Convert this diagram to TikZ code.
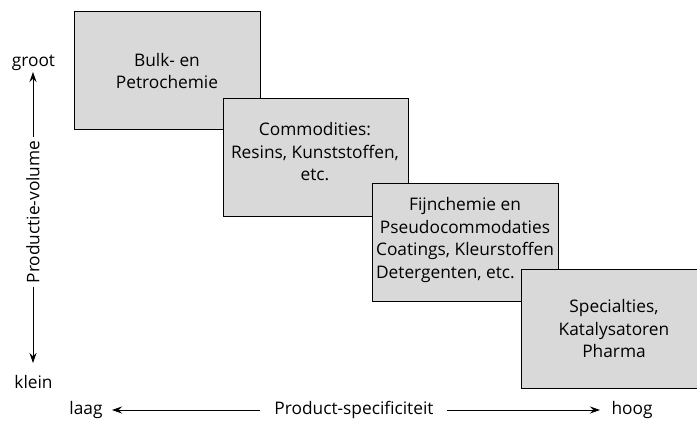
\documentclass[tikz,border=0pt]{standalone}
\usepackage{fontspec}
\setmainfont{Open Sans}
\usetikzlibrary{arrows.meta}
\newsavebox\mycoatbox
\begin{document}
\begin{tikzpicture}[x=1pt,y=-1pt,
  box/.style={draw=black,fill=black!15,line width=0.9pt},
  boxtext/.style={align=center,font=\fontsize{17.3}{22.5}\selectfont,inner sep=0pt},
  axtext/.style={font=\fontsize{17.3}{20}\selectfont,inner sep=0pt},
  axarrow/.style={line width=0.9pt,-{Stealth[length=10pt,width=7pt]}}]
\useasboundingbox (0,0) rectangle (697,424);
\begin{scope}
\clip (0,0) rectangle (697,424);
\draw[box] (74,11) rectangle (260,129.5);
\node[boxtext] (b1) at (167,71) {Bulk- en\\Petrochemie};
\draw[box] (223,98) rectangle (408,216);
\node[boxtext] (b2) at (315,152) {Commodities:\\Resins, Kunststoffen,\\etc.};
\draw[box] (372,183) rectangle (558,301);
\node[boxtext] (b3) at (465,240) {\global\setbox\mycoatbox=\hbox{Coatings, Kleurstoffen}Fijnchemie en\\Pseudocommodaties\\\copy\mycoatbox\\\makebox[\wd\mycoatbox][l]{Detergenten, etc.}};
\draw[box] (521,269) rectangle (708,388);
\node[boxtext] (b4) at (614,329) {Specialties,\\Katalysatoren\\Pharma};
\end{scope}
% vertical axis
\node[axtext] (groot) at (33.5,63) {groot};
\node[axtext] (klein) at (33.5,382) {klein};
\node[axtext,rotate=90] (vol) at (33,212) {Productie-volume};
\coordinate (vt) at (33,72);
\coordinate (vb) at (33,363);
\draw[axarrow] (vol.east) ++(0,-3) -- (vt);
\draw[axarrow] (vol.west) ++(0,3) -- (vb);
% horizontal axis
\node[axtext] (laag) at (86,410) {laag};
\node[axtext] (hoog) at (632,410) {hoog};
\node[axtext] (spec) at (354,410) {Product-specificiteit};
\coordinate (hl) at (112,410);
\coordinate (hr) at (600,410);
\draw[axarrow] (spec.west) ++(-14,0) -- (hl);
\draw[axarrow] (spec.east) ++(13,0) -- (hr);
\end{tikzpicture}
\end{document}
